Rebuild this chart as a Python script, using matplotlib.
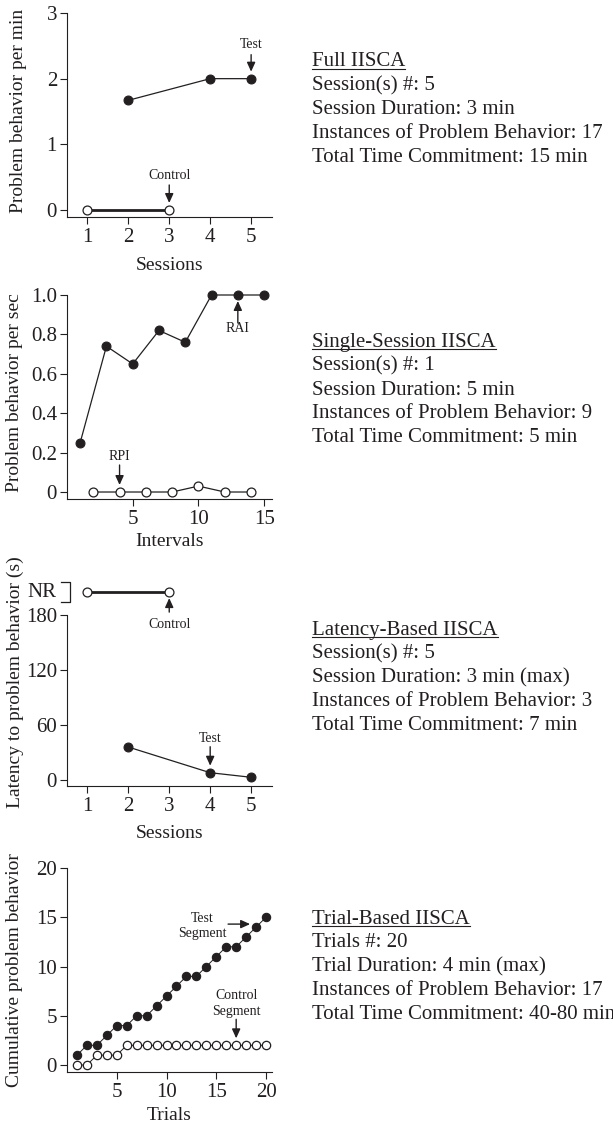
import matplotlib
matplotlib.use("Agg")
import matplotlib.pyplot as plt
from matplotlib.lines import Line2D
from matplotlib.transforms import offset_copy, blended_transform_factory

# -----------------------------
# Datos
# -----------------------------
# Full IISCA
full_ses_test = [2, 4, 5]
full_test = [1.67, 2.0, 2.0]
full_ses_ctrl = [1, 3]
full_ctrl = [0, 0]

# Single-session IISCA
ss_int_test = [1, 3, 5, 7, 9, 11, 13, 15]
ss_test = [0.25, 0.74, 0.65, 0.82, 0.76, 1.0, 1.0, 1.0]
ss_int_ctrl = [2, 4, 6, 8, 10, 12, 14]
ss_ctrl = [0, 0, 0, 0, 0.03, 0, 0]

# Latency-based IISCA (NR = sin respuesta, dibujado sobre 180)
nr_value = 205
lat_ses_test = [2, 4, 5]
lat_test = [36, 8, 3]
lat_ses_ctrl = [1, 3]
lat_ctrl = [nr_value, nr_value]

# Trial-based IISCA
trials = list(range(1, 21))
trial_test = [1, 2, 2, 3, 4, 4, 5, 5, 6, 7, 8, 9, 9, 10, 11, 12, 12, 13, 14, 15]
trial_ctrl = [0, 0, 1, 1, 1, 2, 2, 2, 2, 2, 2, 2, 2, 2, 2, 2, 2, 2, 2, 2]

info_blocks = [
    ["Full IISCA", "Session(s) #: 5", "Session Duration: 3 min",
     "Instances of Problem Behavior: 17", "Total Time Commitment: 15 min"],
    ["Single-Session IISCA", "Session(s) #: 1", "Session Duration: 5 min",
     "Instances of Problem Behavior: 9", "Total Time Commitment: 5 min"],
    ["Latency-Based IISCA", "Session(s) #: 5", "Session Duration: 3 min (max)",
     "Instances of Problem Behavior: 3", "Total Time Commitment: 7 min"],
    ["Trial-Based IISCA", "Trials #: 20", "Trial Duration: 4 min (max)",
     "Instances of Problem Behavior: 17", "Total Time Commitment: 40-80 min"],
]

# -----------------------------
# Estilo
# -----------------------------
W, H = 613, 1124
ink = "#231f20"
plt.rcParams["font.family"] = ["Liberation Serif", "DejaVu Serif"]
plt.rcParams["text.color"] = ink
plt.rcParams["axes.edgecolor"] = ink
plt.rcParams["xtick.color"] = ink
plt.rcParams["ytick.color"] = ink
plt.rcParams["axes.linewidth"] = 0.8
tick_fs = 15
lab_fs = 14
ann_fs = 10

fig = plt.figure(figsize=(W / 100, H / 100), dpi=100)


def px_axes(top, bottom, left=67, right=272):
    return fig.add_axes([left / W, 1 - bottom / H, (right - left) / W, (bottom - top) / H])


def style(ax):
    for s in ["top", "right"]:
        ax.spines[s].set_visible(False)
    ax.tick_params(length=5, width=0.8, labelsize=tick_fs)
    ax.tick_params(axis="x", pad=3.2)
    ax.tick_params(axis="y", pad=2.2)


def arrow(ax, x, y, tail, tip):
    t_tip = offset_copy(ax.transData, fig=fig, x=tip[0], y=tip[1], units="dots")
    t_tail = offset_copy(ax.transData, fig=fig, x=tail[0], y=tail[1], units="dots")
    ax.annotate("", xy=(x, y), xycoords=t_tip, xytext=(x, y), textcoords=t_tail,
                arrowprops=dict(arrowstyle="-|>,head_length=0.55,head_width=0.25",
                                color=ink, lw=1, shrinkA=0, shrinkB=0,
                                mutation_scale=10), annotation_clip=False)


def label(ax, x, y, s, dx, dy):
    ax.annotate(s, xy=(x, y), xytext=(dx, dy), textcoords="offset pixels",
                ha="center", va="center", fontsize=ann_fs, linespacing=1.25,
                annotation_clip=False)


def fig_text(x, y, s, **kw):
    return fig.text(x / W, 1 - y / H, s, **kw)


filled = dict(marker="o", ms=6.4, mfc=ink, mec=ink, mew=0.8, color=ink, lw=0.9, clip_on=False)
empty = dict(marker="o", ms=6.4, mfc="white", mec=ink, mew=0.9, color=ink, lw=0.9, clip_on=False)

# -----------------------------
# Panel 1: Full IISCA
# -----------------------------
ax1 = px_axes(13, 217)
style(ax1)
ax1.plot(full_ses_ctrl, full_ctrl, **{**empty, "lw": 2})
ax1.plot(full_ses_test, full_test, **filled)
ax1.set_xlim(0.503, 5.51)
ax1.set_ylim(-0.107, 3)
ax1.set_xticks([1, 2, 3, 4, 5])
ax1.set_yticks([0, 1, 2, 3])
arrow(ax1, 5, 2, (0, 24), (0, 7))
label(ax1, 5, 2, "Test", 0, 34)
arrow(ax1, 3, 0, (0, 25), (0, 7))
label(ax1, 3, 0, "Control", 0, 34)
fig_text(169.5, 265, "Sessions", ha="center", va="center", fontsize=lab_fs)
fig_text(19, 111, "Problem behavior per min", ha="center", va="center",
         rotation=90, fontsize=lab_fs)

# -----------------------------
# Panel 2: Single-session IISCA
# -----------------------------
ax2 = px_axes(295, 499)
style(ax2)
ax2.plot(ss_int_ctrl, ss_ctrl, **empty)
ax2.plot(ss_int_test, ss_test, **filled)
ax2.set_xlim(0, 15.6)
ax2.set_ylim(-0.0355, 1.0)
ax2.set_xticks([5, 10, 15])
ax2.set_yticks([0, 0.2, 0.4, 0.6, 0.8, 1.0])
ax2.set_yticklabels(["0", "0.2", "0.4", "0.6", "0.8", "1.0"])
arrow(ax2, 13, 1.0, (0, -28), (0, -6))
label(ax2, 13, 1.0, "RAI", 0, -34)
arrow(ax2, 4, 0, (0, 27), (0, 7))
label(ax2, 4, 0, "RPI", 0, 36)
fig_text(169.5, 542, "Intervals", ha="center", va="center", fontsize=lab_fs)
fig_text(15, 393, "Problem behavior per sec", ha="center", va="center",
         rotation=90, fontsize=lab_fs)

# -----------------------------
# Panel 3: Latency-based IISCA
# -----------------------------
ax3 = px_axes(580, 786)
style(ax3)
ax3.plot(lat_ses_ctrl, lat_ctrl, **{**empty, "lw": 2})
ax3.plot(lat_ses_test, lat_test, **filled)
ax3.set_xlim(0.503, 5.51)
ax3.set_ylim(-6.5, 218.2)
ax3.spines["left"].set_bounds(-6.5, 180)
ax3.set_xticks([1, 2, 3, 4, 5])
ax3.set_yticks([0, 60, 120, 180])
# corchete "NR" por encima del eje
br = blended_transform_factory(ax3.transAxes, ax3.transData)
ax3.plot([-0.029, 0.015, 0.015, -0.029], [216, 216, 194, 194], color=ink,
         lw=0.9, transform=br, clip_on=False)
ax3.text(-0.05, nr_value, "NR", transform=br, ha="right", va="center",
         fontsize=tick_fs)
arrow(ax3, 3, nr_value, (0, -20), (0, -6))
label(ax3, 3, nr_value, "Control", 0, -32)
arrow(ax3, 4, 8, (0, 26), (0, 7))
label(ax3, 4, 8, "Test", 0, 34)
fig_text(169.5, 834, "Sessions", ha="center", va="center", fontsize=lab_fs)
fig_text(15, 682, "Latency to problem behavior (s)", ha="center", va="center",
         rotation=90, fontsize=lab_fs)

# -----------------------------
# Panel 4: Trial-based IISCA
# -----------------------------
ax4 = px_axes(868, 1072)
style(ax4)
ax4.plot(trials, trial_ctrl, **{**empty, "ms": 6.0, "lw": 0.7})
ax4.plot(trials, trial_test, **{**filled, "ms": 6.0, "lw": 0.7})
ax4.set_xlim(0, 20.6)
ax4.set_ylim(-0.71, 20)
ax4.set_xticks([5, 10, 15, 20])
ax4.set_yticks([0, 5, 10, 15, 20])
arrow(ax4, 19, 14, (-28, 3), (-6, 3))
label(ax4, 19, 14, "Test\nSegment", -54, 1)
arrow(ax4, 17, 2, (0, 26), (0, 7))
label(ax4, 17, 2, "Control\nSegment", 0, 42)
fig_text(169.5, 1116, "Trials", ha="center", va="center", fontsize=lab_fs)
fig_text(15, 970, "Cumulative problem behavior", ha="center", va="center",
         rotation=90, fontsize=lab_fs)

# -----------------------------
# Texto descriptivo a la derecha
# -----------------------------
first_baselines = [66.5, 347, 634.5, 923.5]
line_step = 23.8
headings = []
for block, y0 in zip(info_blocks, first_baselines):
    for i, s in enumerate(block):
        t = fig_text(312, y0 + i * line_step, s, ha="left", va="baseline", fontsize=15)
        if i == 0:
            headings.append((t, y0))

fig.canvas.draw()
renderer = fig.canvas.get_renderer()
for t, y0 in headings:
    bb = t.get_window_extent(renderer)
    yl = 1 - (y0 + 2) / H
    fig.add_artist(Line2D([bb.x0 / W, bb.x1 / W], [yl, yl], color=ink, lw=0.8,
                          transform=fig.transFigure))

fig.savefig("out.png", dpi=100)
